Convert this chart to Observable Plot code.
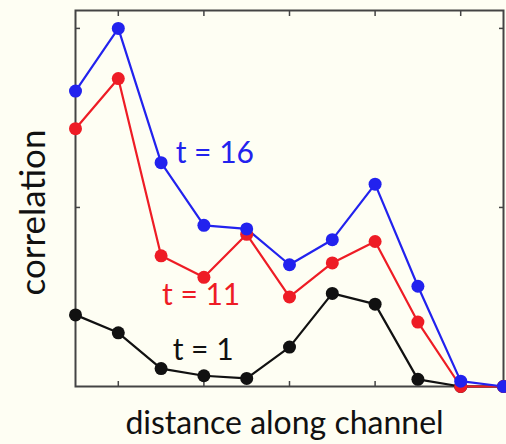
<!DOCTYPE html>
<html>
<head>
<meta charset="utf-8">
<script src="https://cdn.jsdelivr.net/npm/d3@7"></script>
<script src="https://cdn.jsdelivr.net/npm/@observablehq/plot@0.6"></script>
<style>
  html, body { margin: 0; padding: 0; background: #fefef3; }
  #chart svg { display: block; background: #fefef3; }
</style>
</head>
<body>
<div id="chart"></div>
<script>
const positions = [0, 1, 2, 3, 4, 5, 6, 7, 8, 9, 10];
const t16 = [1.65, 2.0, 1.25, 0.90, 0.88, 0.68, 0.82, 1.13, 0.56, 0.03, 0.0];
const t11 = [1.44, 1.72, 0.73, 0.61, 0.85, 0.50, 0.69, 0.81, 0.36, 0.0, 0.0];
const t1  = [0.40, 0.30, 0.10, 0.06, 0.045, 0.22, 0.52, 0.46, 0.04, 0.0, 0.0];
const seriesNames = ["t = 1", "t = 11", "t = 16"];
const seriesColors = ["#111111", "#ee1c25", "#2222ee"];
const xTicks = [1, 3, 5, 7, 9];
const yTicks = [1, 2];
const labelPos = [
  {name: "t = 16", x: 2.34, y: 1.30},
  {name: "t = 11", x: 2.02, y: 0.51},
  {name: "t = 1",  x: 2.27, y: 0.20}
];
const xLabel = "distance along channel";
const yLabel = "correlation";

const seriesValues = [t1, t11, t16];
const rows = [];
seriesNames.forEach((name, i) => {
  positions.forEach((p, j) => rows.push({series: name, x: p, y: seriesValues[i][j]}));
});
const color = {domain: seriesNames, range: seriesColors};
const font = "Lato, 'Open Sans', sans-serif";
const noText = () => "";
const axisStyle = {tickSize: -5, tickFormat: noText, stroke: "#444", strokeWidth: 1.5};

const plot = Plot.plot({
  width: 506,
  height: 444,
  marginLeft: 75,
  marginRight: 3,
  marginTop: 10,
  marginBottom: 58,
  x: {domain: [0, 10], axis: null},
  y: {domain: [0, 2.1], axis: null},
  color,
  style: {fontFamily: font, background: "#fefef3", color: "#111"},
  marks: [
    Plot.axisX({anchor: "bottom", ticks: xTicks, ...axisStyle, label: null}),
    Plot.axisX({anchor: "top", ticks: xTicks, ...axisStyle, label: null}),
    Plot.axisY({anchor: "left", ticks: yTicks, ...axisStyle, label: null}),
    Plot.axisY({anchor: "right", ticks: yTicks, ...axisStyle, label: null}),
    Plot.frame({stroke: "#444", strokeWidth: 2}),
    ...seriesNames.map(s => Plot.line(rows.filter(d => d.series === s), {x: "x", y: "y", stroke: "series", strokeWidth: 2.2})),
    ...seriesNames.map(s => Plot.dot(rows.filter(d => d.series === s), {x: "x", y: "y", fill: "series", r: 6.5})),
    Plot.text(labelPos, {x: "x", y: "y", text: "name", fill: "name", textAnchor: "start", fontSize: 30, fontFamily: font}),
    Plot.text([yLabel], {frameAnchor: "left", textAnchor: "middle", lineAnchor: "middle", rotate: -90, dx: -42, dy: 14, fontSize: 35, fill: "#111", fontFamily: font}),
    Plot.text([xLabel], {frameAnchor: "bottom", textAnchor: "middle", lineAnchor: "middle", dx: -5, dy: 37, fontSize: 32, fill: "#111", fontFamily: font})
  ]
});
document.getElementById("chart").appendChild(plot);
</script>
</body>
</html>
